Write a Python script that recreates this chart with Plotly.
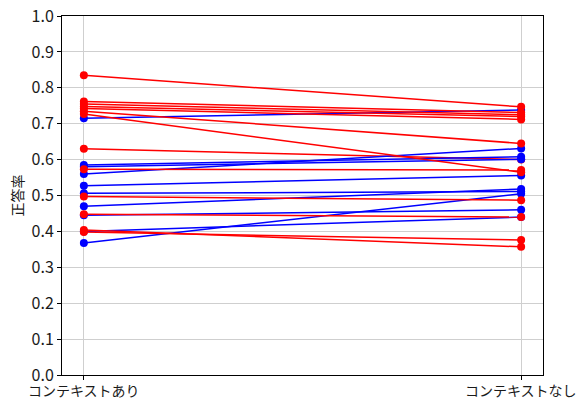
import plotly.graph_objects as go

# Accuracy per item, with and without context
conditions = ["コンテキストあり", "コンテキストなし"]

# Items whose accuracy drops without context (drawn in red)
red_with = [0.630, 0.835, 0.762, 0.755, 0.748, 0.742, 0.735, 0.727,
            0.573, 0.497, 0.448, 0.404, 0.398]
red_without = [0.600, 0.747, 0.731, 0.725, 0.720, 0.712, 0.645, 0.565,
               0.571, 0.487, 0.440, 0.357, 0.376]

# Items whose accuracy rises without context (drawn in blue)
blue_with = [0.715, 0.585, 0.580, 0.560, 0.527, 0.506, 0.470, 0.445, 0.400, 0.368]
blue_without = [0.738, 0.608, 0.601, 0.631, 0.556, 0.511, 0.518, 0.460, 0.440, 0.505]

y_ticks = [0.0, 0.1, 0.2, 0.3, 0.4, 0.5, 0.6, 0.7, 0.8, 0.9, 1.0]

FONT = "Noto Sans CJK JP, Noto Sans, DejaVu Sans, sans-serif"
TEXT = "#1a1a1a"

fig = go.Figure()


def add_pair(a, b, color):
    fig.add_trace(go.Scatter(
        x=[0, 1], y=[a, b], mode="lines+markers",
        line=dict(color=color, width=1.5),
        marker=dict(color=color, size=8),
        showlegend=False, hoverinfo="y",
    ))


# the first red pair sits beneath the blue markers near 0.60
add_pair(red_with[0], red_without[0], "red")
for a, b in zip(blue_with, blue_without):
    add_pair(a, b, "blue")
for a, b in zip(red_with[1:], red_without[1:]):
    add_pair(a, b, "red")

# condition names under the two x ticks
for i, name in enumerate(conditions):
    fig.add_annotation(
        x=i, xref="x", y=0, yref="paper",
        text=name, showarrow=False,
        xanchor="center", yanchor="top", yshift=-3,
        font=dict(size=14, color=TEXT, family=FONT),
    )

fig.update_layout(
    width=584, height=400,
    margin=dict(l=62, r=41, t=16, b=25),
    paper_bgcolor="white", plot_bgcolor="white",
    font=dict(family=FONT, size=14, color=TEXT),
)

fig.update_xaxes(
    range=[-0.05, 1.05], automargin=False,
    tickvals=[0, 1], showticklabels=False,
    showgrid=True, gridcolor="#cfcfcf", gridwidth=1,
    showline=True, linecolor="black", linewidth=1, mirror=True,
    ticks="outside", ticklen=4, tickcolor="black",
    zeroline=False,
)

fig.update_yaxes(
    range=[0, 1], automargin=False,
    tickvals=y_ticks, tickformat=".1f",
    showgrid=True, gridcolor="#cfcfcf", gridwidth=1,
    showline=True, linecolor="black", linewidth=1, mirror=True,
    ticks="outside", ticklen=4, tickcolor="black",
    zeroline=False, tickfont=dict(size=16, color=TEXT),
    title=dict(text="正答率", font=dict(size=14, color=TEXT), standoff=4),
)

fig.write_html("out.html")
